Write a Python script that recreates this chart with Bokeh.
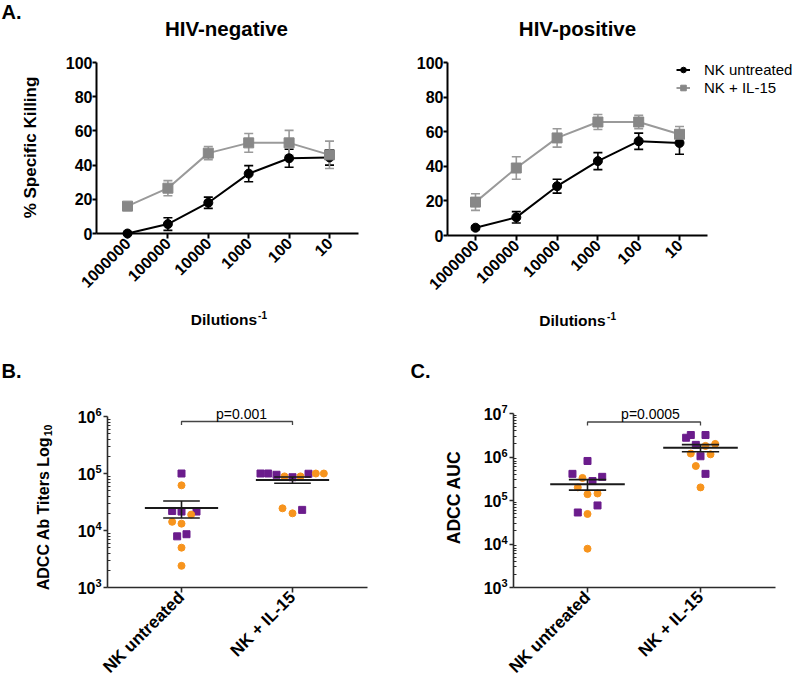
import math
import numpy as np
from bokeh.plotting import figure
from bokeh.models import (ColumnDataSource, Whisker, TeeHead, Label, FixedTicker,
                          Legend, LegendItem, Range1d)
from bokeh.layouts import column, row
from bokeh.embed import file_html
from bokeh.resources import INLINE

# ---------------- data ----------------
dilutions = ["1000000", "100000", "10000", "1000", "100", "10"]

neg_untreated = [0, 5.5, 18, 35, 44, 44.5]
neg_untreated_err = [0.5, 3.7, 3.3, 4.7, 5.3, 4.5]
neg_il15 = [16, 26.5, 47, 53, 53, 46]
neg_il15_err = [1.0, 4.4, 3.9, 5.5, 7.3, 8.0]

pos_untreated = [4.5, 10.5, 28.5, 43, 54.5, 53.5]
pos_untreated_err = [1.0, 3.3, 4.0, 4.9, 4.7, 6.5]
pos_il15 = [19.3, 39, 56.4, 65.6, 65.6, 58.5]
pos_il15_err = [4.8, 6.5, 5.3, 4.3, 3.9, 4.5]

groups = ["NK untreated", "NK + IL-15"]

titer_untreated = [1.0e5, 6.2e4, 2.2e4, 2.15e4, 1.9e4, 2.15e4, 1.42e4, 1.32e4, 8.6e3, 7.9e3, 5.0e3, 2.4e3]
titer_untreated_kind = ["sq", "ci", "sq", "sq", "ci", "sq", "ci", "ci", "sq", "sq", "ci", "ci"]
titer_untreated_jitter = [0, 0, -28, 0, 29, 45, -28, 0, 15, -13, 0, 0]
titer_il15 = [1.0e5, 1.0e5, 9.5e4, 8.9e4, 8.6e4, 8.9e4, 9.9e4, 1.0e5, 1.0e5, 2.45e4, 2.0e4, 2.3e4]
titer_il15_kind = ["sq", "sq", "sq", "ci", "sq", "ci", "sq", "ci", "ci", "ci", "ci", "sq"]
titer_il15_jitter = [-96, -73, -48, -24, 0, 24, 48, 70, 94, -30, 0, 29]

auc_untreated = [8.1e5, 4.1e5, 3.3e5, 2.8e5, 3.5e5, 2.0e5, 1.4e5, 1.45e5, 7.7e4, 5.3e4, 4.9e4, 7.8e3]
auc_untreated_kind = ["sq", "sq", "ci", "sq", "sq", "ci", "ci", "ci", "sq", "sq", "ci", "ci"]
auc_untreated_jitter = [0, -45, -15, 15, 44, -29, 0, 30, 30, -29, 0, 0]
auc_il15 = [2.77e6, 3.2e6, 3.2e6, 1.9e6, 2.0e6, 1.8e6, 1.2e6, 1.04e6, 1.15e6, 6.2e5, 4.1e5, 2.0e5]
auc_il15_kind = ["sq", "sq", "sq", "sq", "ci", "ci", "ci", "sq", "ci", "ci", "sq", "ci"]
auc_il15_jitter = [-43, -29, 15, -14, 44, 15, -29, 0, 30, -14, 15, 0]

p_titer = "p=0.001"
p_auc = "p=0.0005"

FONT = "Liberation Sans"
PURPLE = "#6B1C8C"
ORANGE = "#F7941D"
GRAY_LINE = "#9A9A9A"
GRAY_MARK = "#878787"


class Panel:
    """A figure whose frame covers the whole canvas; axes sit at fixed locations."""

    def __init__(self, X0, Y0, W, H, xmap, ymap, ylog=False):
        self.X0, self.Y0, self.W, self.H = X0, Y0, W, H
        self.xmap, self.ymap, self.ylog = xmap, ymap, ylog
        xr = (self.dx(X0), self.dx(X0 + W))
        yr = (self.dy(Y0 + H), self.dy(Y0))
        self.p = figure(width=W, height=H, x_range=Range1d(*xr), y_range=Range1d(*yr),
                        y_axis_type="log" if ylog else "linear",
                        output_backend="svg", toolbar_location=None,
                        min_border=0, min_border_left=0, min_border_right=0,
                        min_border_top=0, min_border_bottom=0)
        p = self.p
        p.outline_line_color = None
        p.xgrid.visible = False
        p.ygrid.visible = False
        p.background_fill_color = "white"
        p.border_fill_color = "white"

    def dx(self, px):
        a, va, b, vb = self.xmap
        return va + (px - a) * (vb - va) / (b - a)

    def dy(self, py):
        a, va, b, vb = self.ymap
        if self.ylog:
            la, lb = math.log10(va), math.log10(vb)
            return 10 ** (la + (py - a) * (lb - la) / (b - a))
        return va + (py - a) * (vb - va) / (b - a)

    def py(self, v):
        a, va, b, vb = self.ymap
        if self.ylog:
            la, lb = math.log10(va), math.log10(vb)
            return a + (math.log10(v) - la) * (b - a) / (lb - la)
        return a + (v - va) * (b - a) / (vb - va)

    def text(self, px, py, txt, size, bold=True, angle=0.0):
        self.p.add_layout(Label(x=self.dx(px), y=self.dy(py), text=txt,
                                text_align="center", text_baseline="middle", angle=angle,
                                text_font=FONT, text_font_size=f"{size}px",
                                text_font_style="bold" if bold else "normal",
                                text_color="black"))

    def axes(self, ax_px, ax_right_px, ay_py, ay_top_py, color, width):
        p = self.p
        xa, ya = p.xaxis[0], p.yaxis[0]
        xa.fixed_location = self.dy(ay_py)
        ya.fixed_location = self.dx(ax_px)
        xa.bounds = (self.dx(ax_px), self.dx(ax_right_px))
        ya.bounds = (self.dy(ay_py), self.dy(ay_top_py))
        for ax in (xa, ya):
            ax.axis_line_color = color
            ax.axis_line_width = width
            ax.major_tick_line_color = color
            ax.major_tick_line_width = width
            ax.major_tick_in = 0
            ax.major_tick_out = 5
            ax.major_label_text_font = FONT
            ax.major_label_text_font_style = "bold"
            ax.major_label_text_color = "black"
            ax.major_label_standoff = 2


# ---------------- panel A ----------------
def killing_panel(X0, W, xmap, ymap, ax_px, ax_right_px,
                  untreated, untreated_err, il15, il15_err):
    pan = Panel(X0, 0, W, 340, xmap, ymap)
    p = pan.p
    pan.axes(ax_px, ax_right_px, ymap[0], ymap[2], "black", 2)
    xs = list(range(len(dilutions)))
    p.xaxis[0].ticker = FixedTicker(ticks=xs)
    p.xaxis[0].major_label_overrides = {i: d for i, d in enumerate(dilutions)}
    p.xaxis[0].major_label_orientation = math.pi / 4
    p.xaxis[0].major_label_text_font_size = "16px"
    p.xaxis[0].minor_tick_line_color = None
    p.yaxis[0].ticker = FixedTicker(ticks=[0, 20, 40, 60, 80, 100])
    p.yaxis[0].major_label_text_font_size = "16px"
    p.yaxis[0].major_tick_out = 4
    p.yaxis[0].major_label_standoff = 0
    p.yaxis[0].minor_tick_line_color = None

    su = ColumnDataSource(dict(x=xs, y=untreated,
                               lo=[v - e for v, e in zip(untreated, untreated_err)],
                               hi=[v + e for v, e in zip(untreated, untreated_err)]))
    sg = ColumnDataSource(dict(x=xs, y=il15,
                               lo=[v - e for v, e in zip(il15, il15_err)],
                               hi=[v + e for v, e in zip(il15, il15_err)]))
    for src, col in ((su, "black"), (sg, GRAY_LINE)):
        p.add_layout(Whisker(source=src, base="x", upper="hi", lower="lo",
                             line_color=col, line_width=1.6,
                             upper_head=TeeHead(size=9, line_color=col, line_width=1.6),
                             lower_head=TeeHead(size=9, line_color=col, line_width=1.6)))
    lu = p.line("x", "y", source=su, line_color="black", line_width=2)
    mu = p.scatter("x", "y", source=su, marker="circle", size=9,
                   fill_color="black", line_color="black")
    lg = p.line("x", "y", source=sg, line_color=GRAY_LINE, line_width=2)
    mg = p.scatter("x", "y", source=sg, marker="square", size=10,
                   fill_color=GRAY_MARK, line_color=GRAY_MARK)
    return pan, (lu, mu), (lg, mg)


a1, _, _ = killing_panel(0, 400, (127, 0, 329, 5), (233, 0, 62, 100), 96, 358,
                         neg_untreated, neg_untreated_err, neg_il15, neg_il15_err)
a2, ru, rg = killing_panel(400, 398, (475, 0, 679, 5), (235, 0, 62, 100), 447, 707,
                           pos_untreated, pos_untreated_err, pos_il15, pos_il15_err)

a1.text(11, 11, "A.", 20)
a1.text(226, 28, "HIV-negative", 20.5)
a2.text(577, 28, "HIV-positive", 20.5)
a1.text(30, 147, "% Specific Killing", 17, angle=math.pi / 2)
a1.text(223.5, 319, "Dilutions", 15.5)
a1.text(262, 314, "-1", 10)
a2.text(572, 320, "Dilutions", 15.5)
a2.text(611, 315, "-1", 10)

for label, rends, bottom in ((groups[0], ru, 78), (groups[1], rg, 96)):
    lgd = Legend(items=[LegendItem(label=label, renderers=list(rends))],
                 location=(276, 340 - bottom), orientation="vertical",
                 padding=0, margin=0, spacing=0, border_line_color=None,
                 background_fill_alpha=0, glyph_width=14, glyph_height=15,
                 label_height=15, label_standoff=14,
                 label_text_font=FONT, label_text_font_size="15px",
                 label_text_color="black")
    a2.p.add_layout(lgd)


# ---------------- panels B and C ----------------
def dot_panel(X0, W, H, xmap, ymap, ax_px, ax_right_px, decades,
              d1, k1, j1, d2, k2, j2, jit_scale):
    pan = Panel(X0, 340, W, H, xmap, ymap, ylog=True)
    p = pan.p
    pan.axes(ax_px, ax_right_px, ymap[0], ymap[2], "#2b2b2b", 1.6)
    p.xaxis[0].ticker = FixedTicker(ticks=[1, 2])
    p.xaxis[0].major_label_overrides = {1: groups[0], 2: groups[1]}
    p.xaxis[0].major_label_orientation = math.pi / 4
    p.xaxis[0].major_label_text_font_size = "17px"
    p.xaxis[0].minor_tick_line_color = None
    majors = [10 ** d for d in decades]
    minors = [k * 10 ** d for d in decades[:-1] for k in range(2, 10)]
    p.yaxis[0].ticker = FixedTicker(ticks=majors, minor_ticks=minors)
    p.yaxis[0].major_label_overrides = {10 ** d: "10" for d in decades}
    p.yaxis[0].major_label_text_font_size = "16px"
    p.yaxis[0].major_tick_out = 4
    p.yaxis[0].major_label_standoff = 8
    p.yaxis[0].minor_tick_line_color = "#2b2b2b"
    p.yaxis[0].minor_tick_line_width = 1
    p.yaxis[0].minor_tick_in = 3
    p.yaxis[0].minor_tick_out = 0
    for d in decades:
        pan.text(ax_px - 9, pan.py(10 ** d) - 4.5, str(d), 11)

    for c, vals, kinds, jit in ((1, d1, k1, j1), (2, d2, k2, j2)):
        arr = np.array(vals, dtype=float)
        mean = arr.mean()
        sem = arr.std(ddof=1) / math.sqrt(len(arr))
        xs = [c + j / jit_scale for j in jit]
        sq = ColumnDataSource(dict(x=[x for x, k in zip(xs, kinds) if k == "sq"],
                                   y=[v for v, k in zip(vals, kinds) if k == "sq"]))
        ci = ColumnDataSource(dict(x=[x for x, k in zip(xs, kinds) if k == "ci"],
                                   y=[v for v, k in zip(vals, kinds) if k == "ci"]))
        p.scatter("x", "y", source=sq, marker="square", size=7,
                  fill_color=PURPLE, line_color=PURPLE)
        p.scatter("x", "y", source=ci, marker="circle", size=7,
                  fill_color=ORANGE, line_color=ORANGE)
        p.segment(x0=[c - 0.33], x1=[c + 0.33], y0=[mean], y1=[mean],
                  line_color="#1a1a1a", line_width=2)
        p.segment(x0=[c], x1=[c], y0=[mean - sem], y1=[mean + sem],
                  line_color="#1a1a1a", line_width=1.6)
        p.segment(x0=[c - 0.165, c - 0.165], x1=[c + 0.165, c + 0.165],
                  y0=[mean - sem, mean + sem], y1=[mean - sem, mean + sem],
                  line_color="#1a1a1a", line_width=1.6)
    return pan


b = dot_panel(0, 400, 346, (181, 1, 292, 2), (587, 1e3, 416, 1e6), 107, 367, [3, 4, 5, 6],
              titer_untreated, titer_untreated_kind, titer_untreated_jitter,
              titer_il15, titer_il15_kind, titer_il15_jitter, 333.0)
c = dot_panel(400, 398, 346, (587, 1, 700, 2), (587, 1e3, 413, 1e7), 513, 775, [3, 4, 5, 6, 7],
              auc_untreated, auc_untreated_kind, auc_untreated_jitter,
              auc_il15, auc_il15_kind, auc_il15_jitter, 338.0)

# significance brackets
for pan, y_line, y_end, y_txt, x_txt, txt in ((b, 421, 424.5, 413, 241, p_titer),
                                              (c, 421.5, 425, 413, 650, p_auc)):
    yl = pan.dy(y_line)
    ye = pan.dy(y_end)
    pan.p.line(x=[1, 1, 2, 2], y=[ye, yl, yl, ye], line_color="#444444", line_width=1.3)
    pan.text(x_txt, y_txt, txt, 14, bold=False)

b.text(11, 370, "B.", 20)
c.text(420, 370, "C.", 20)
b.text(43, 513, "ADCC Ab Titers Log", 16, angle=math.pi / 2)
b.text(47.5, 430, "10", 10.5, angle=math.pi / 2)
c.text(453, 497, "ADCC AUC", 17.5, angle=math.pi / 2)

layout = column(row(a1.p, a2.p), row(b.p, c.p))
open("out.html", "w").write(file_html(layout, INLINE))
